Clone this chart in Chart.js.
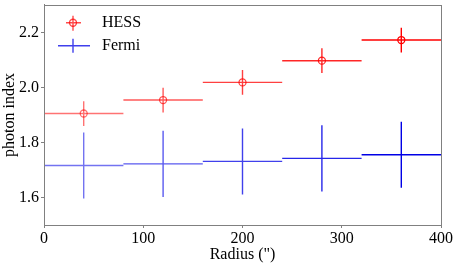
<!DOCTYPE html>
<html><head><meta charset="utf-8">
<script src="https://cdn.jsdelivr.net/npm/chart.js@4"></script>
<style>html,body{margin:0;padding:0;background:#fff}#wrap{width:457px;height:264px}</style>
</head><body><div id="wrap"><canvas id="c" width="457" height="264"></canvas></div>
<script>
const radius = [40, 120, 200, 280, 360];
const binHalfWidth = [40, 40, 40, 40, 40];
const hessIndex = [1.905, 1.954, 2.018, 2.097, 2.172];
const hessErr = [0.045, 0.045, 0.045, 0.045, 0.045];
const fermiIndex = [1.716, 1.722, 1.731, 1.742, 1.755];
const fermiErr = [0.12, 0.12, 0.12, 0.12, 0.12];
const xTicks = [0, 100, 200, 300, 400];
const yTicks = [1.6, 1.8, 2.0, 2.2];
const hessAlpha = [0.55, 0.65, 0.75, 0.85, 1.0];
const fermiAlpha = [0.55, 0.65, 0.75, 0.85, 1.0];

const FONT = '"Liberation Serif", "Times New Roman", serif';

function toPts(v){ return radius.map((x,i)=>({x:x,y:v[i]})); }

const errorBars = {
  id:'errorBars',
  beforeDatasetsDraw(chart){
    const ctx = chart.ctx, xs = chart.scales.x, ys = chart.scales.y;
    const sets = [
      {v:hessIndex, e:hessErr, a:hessAlpha, rgb:'255,0,0'},
      {v:fermiIndex, e:fermiErr, a:fermiAlpha, rgb:'0,0,230'}
    ];
    ctx.save();
    ctx.lineWidth = 1.4;
    sets.forEach(s=>{
      radius.forEach((x,i)=>{
        ctx.strokeStyle = 'rgba('+s.rgb+','+s.a[i]+')';
        const px = xs.getPixelForValue(x), py = ys.getPixelForValue(s.v[i]);
        ctx.beginPath();
        ctx.moveTo(xs.getPixelForValue(x-binHalfWidth[i]), py);
        ctx.lineTo(xs.getPixelForValue(x+binHalfWidth[i]), py);
        ctx.moveTo(px, ys.getPixelForValue(s.v[i]-s.e[i]));
        ctx.lineTo(px, ys.getPixelForValue(s.v[i]+s.e[i]));
        ctx.stroke();
      });
    });
    ctx.restore();
  },
  afterDraw(chart){
    const ctx = chart.ctx, a = chart.chartArea;
    ctx.save();
    ctx.strokeStyle = '#808080';
    ctx.lineWidth = 1;
    ctx.strokeRect(Math.round(a.left)+0.5, Math.round(a.top)+0.5, Math.round(a.right-a.left), Math.round(a.bottom-a.top));
    // legend
    const lx = a.left + 29, ly1 = a.top + 18, ly2 = a.top + 41;
    ctx.lineWidth = 1.4;
    ctx.strokeStyle = 'rgba(255,0,0,0.7)';
    ctx.beginPath();
    ctx.moveTo(lx-7, ly1); ctx.lineTo(lx+8, ly1);
    ctx.moveTo(lx, ly1-7); ctx.lineTo(lx, ly1+8);
    ctx.stroke();
    ctx.beginPath(); ctx.arc(lx, ly1, 3.5, 0, Math.PI*2); ctx.stroke();
    ctx.strokeStyle = 'rgba(0,0,230,0.75)';
    ctx.beginPath();
    ctx.moveTo(lx-15, ly2); ctx.lineTo(lx+17, ly2);
    ctx.moveTo(lx, ly2-7); ctx.lineTo(lx, ly2+7);
    ctx.stroke();
    ctx.fillStyle = '#000';
    ctx.font = '16px ' + FONT;
    ctx.textBaseline = 'middle';
    ctx.textAlign = 'left';
    ctx.fillText('HESS', a.left + 58, ly1);
    ctx.fillText('Fermi', a.left + 58, ly2);
    ctx.restore();
  }
};

new Chart(document.getElementById('c'), {
  type:'scatter',
  data:{datasets:[
    {label:'HESS', data:toPts(hessIndex), pointStyle:'circle', pointRadius:3.5, pointHoverRadius:3.5,
     borderColor:hessAlpha.map(a=>'rgba(255,0,0,'+a+')'), backgroundColor:'rgba(0,0,0,0)', borderWidth:1.3, showLine:false},
    {label:'Fermi', data:toPts(fermiIndex), pointRadius:0, showLine:false, borderColor:'rgba(0,0,230,1)'}
  ]},
  options:{
    responsive:false, animation:false, devicePixelRatio:1,
    layout:{padding:{top:4, right:16, left:0, bottom:0}},
    plugins:{legend:{display:false}, tooltip:{enabled:false}},
    scales:{
      x:{type:'linear', min:0, max:400,
         afterBuildTicks(s){ s.ticks = xTicks.map(v=>({value:v})); },
         afterFit(s){ s.height = 39; s.paddingLeft = 0; s.paddingRight = 0; },
         grid:{drawOnChartArea:false, drawTicks:true, tickLength:3, color:'#808080'},
         border:{display:true, color:'#808080'},
         ticks:{color:'#000', font:{family:FONT, size:16}, padding:1, maxRotation:0},
         title:{display:true, text:'Radius (")', color:'#000', font:{family:FONT, size:16}, padding:{top:-3, bottom:0}}
      },
      y:{type:'linear', min:1.5, max:2.3,
         afterBuildTicks(s){ s.ticks = yTicks.map(v=>({value:v})); },
         afterFit(s){ s.width = 44; s.paddingTop = 0; s.paddingBottom = 0; },
         grid:{drawOnChartArea:false, drawTicks:true, tickLength:3, color:'#808080'},
         border:{display:true, color:'#808080'},
         ticks:{color:'#000', font:{family:FONT, size:16}, padding:2, callback:v=>v.toFixed(1)},
         title:{display:true, text:'photon index', color:'#000', font:{family:FONT, size:16}, padding:{top:0, bottom:0}}
      }
    }
  },
  plugins:[errorBars]
});
</script></body></html>
